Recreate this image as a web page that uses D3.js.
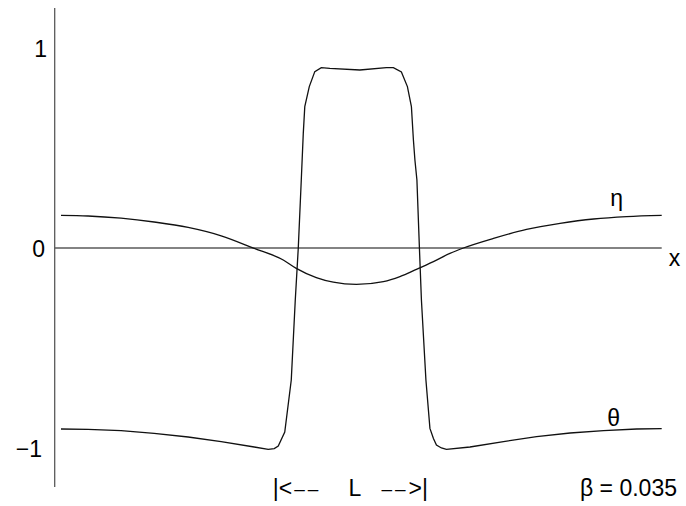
<!DOCTYPE html>
<html>
<head>
<meta charset="utf-8">
<script src="https://cdn.jsdelivr.net/npm/d3@7"></script>
<style>
  html, body { margin: 0; padding: 0; background: #fff; }
  svg { display: block; }
  text { font-family: "Liberation Sans", Arial, Helvetica, sans-serif; fill: #000; }
</style>
</head>
<body>
<svg id="chart" width="686" height="506"></svg>
<script>
// Temperature-like profile theta(x): plateau near +0.9 over the slab of width L
const thetaX = [-3.00, -2.73, -2.40, -2.07, -1.73, -1.40, -1.07, -0.93, -0.87, -0.83, -0.765, -0.70,
  -0.66, -0.63, -0.60, -0.58, -0.565, -0.52, -0.465, -0.40, -0.315, -0.015, 0.25, 0.32, 0.40, 0.46,
  0.50, 0.52, 0.535, 0.555, 0.58, 0.60, 0.645, 0.685, 0.72, 0.75, 0.80, 0.85, 1.085, 1.42, 1.75,
  2.085, 2.42, 2.75, 3.00];
const thetaY = [-0.905, -0.907, -0.913, -0.927, -0.945, -0.968, -0.995, -1.007, -1.003, -0.99, -0.92, -0.66,
  -0.26, 0.00, 0.34, 0.573, 0.707, 0.807, 0.882, 0.902, 0.898, 0.89, 0.902, 0.902, 0.88, 0.807,
  0.707, 0.54, 0.44, 0.34, 0.00, -0.26, -0.66, -0.902, -0.952, -0.985, -1.000, -1.007, -0.995, -0.968, -0.943,
  -0.925, -0.913, -0.905, -0.903];

// Displacement-like profile eta(x): smooth dip under the slab
const etaX = [-3.00, -2.73, -2.40, -2.07, -1.73, -1.40, -1.07, -0.78, -0.65, -0.45, -0.28, -0.05,
  0.22, 0.385, 0.55, 0.72, 0.885, 1.02, 1.32, 1.65, 1.985, 2.32, 2.65, 3.00];
const etaY = [0.163, 0.160, 0.149, 0.130, 0.103, 0.061, -0.002, -0.060, -0.102, -0.148, -0.171, -0.182,
  -0.168, -0.143, -0.107, -0.068, -0.027, 0.000, 0.048, 0.093, 0.123, 0.145, 0.157, 0.163];

const yTickValues = [1, 0, -1];
const yTickLabels = ["1", "0", "\u22121"];
const curveLabels = ["\u03b7", "\u03b8"];
const axisLabel = "x";
const paramLabel = "\u03b2 = 0.035";
const spanLabels = ["|<", "L", ">|"];
const spanDashes = "\u2013\u2013";

const svg = d3.select("#chart");

const x = d3.scaleLinear().domain([-3, 3]).range([61, 661.7]);
const y = d3.scaleLinear().domain([-1, 1]).range([448, 48]);

const axisColor = "#5a5a5a";

// vertical axis
svg.append("line")
  .attr("x1", x(-3.063)).attr("x2", x(-3.063))
  .attr("y1", y(1.2)).attr("y2", y(-1.195))
  .attr("stroke", axisColor).attr("stroke-width", 1.3);

// horizontal zero line
svg.append("line")
  .attr("x1", x(-3.063)).attr("x2", x(3))
  .attr("y1", y(0)).attr("y2", y(0))
  .attr("stroke", axisColor).attr("stroke-width", 1.3);

// tick labels on the vertical axis
const tickEnds = [47, 45, 42];
svg.selectAll("text.ytick")
  .data(yTickValues)
  .enter().append("text")
  .attr("class", "ytick")
  .attr("x", (d, i) => tickEnds[i])
  .attr("y", d => y(d) + 8.5)
  .attr("text-anchor", "end")
  .attr("font-size", 23)
  .text((d, i) => yTickLabels[i]);

const line = d3.line().x(d => x(d[0])).y(d => y(d[1]));

svg.append("path")
  .datum(d3.zip(etaX, etaY))
  .attr("d", line.curve(d3.curveMonotoneX))
  .attr("fill", "none").attr("stroke", "#111").attr("stroke-width", 1.3);

svg.append("path")
  .datum(d3.zip(thetaX, thetaY))
  .attr("d", line.curve(d3.curveLinear))
  .attr("fill", "none").attr("stroke", "#111").attr("stroke-width", 1.3);

// curve names
svg.append("text")
  .attr("x", x(2.55)).attr("y", y(0.21))
  .attr("text-anchor", "middle").attr("font-size", 23)
  .text(curveLabels[0]);
svg.append("text")
  .attr("x", x(2.52)).attr("y", y(-0.89))
  .attr("text-anchor", "middle").attr("font-size", 23)
  .text(curveLabels[1]);

// axis name
svg.append("text")
  .attr("x", x(3) + 7).attr("y", y(-0.09))
  .attr("font-size", 23)
  .text(axisLabel);

// slab width marker: |<-- L -->|
const spanY = y(-1.24);
const leftMark = svg.append("text").attr("x", x(-0.885)).attr("y", spanY).attr("font-size", 23);
leftMark.append("tspan").text(spanLabels[0]);
leftMark.append("tspan").attr("font-size", 19).attr("dx", 2).attr("dy", -1.5)
  .attr("letter-spacing", 3).text(spanDashes);

svg.append("text").attr("x", x(-0.065)).attr("y", spanY)
  .attr("text-anchor", "middle").attr("font-size", 23).text(spanLabels[1]);

const rightMark = svg.append("text").attr("x", x(0.665)).attr("y", spanY)
  .attr("text-anchor", "end").attr("font-size", 23);
rightMark.append("tspan").attr("font-size", 19).attr("dy", -1.5)
  .attr("letter-spacing", 3).text(spanDashes);
rightMark.append("tspan").attr("dy", 1.5).text(spanLabels[2]);

// parameter note
svg.append("text").attr("x", 677).attr("y", spanY)
  .attr("text-anchor", "end").attr("font-size", 23).text(paramLabel);
</script>
</body>
</html>
